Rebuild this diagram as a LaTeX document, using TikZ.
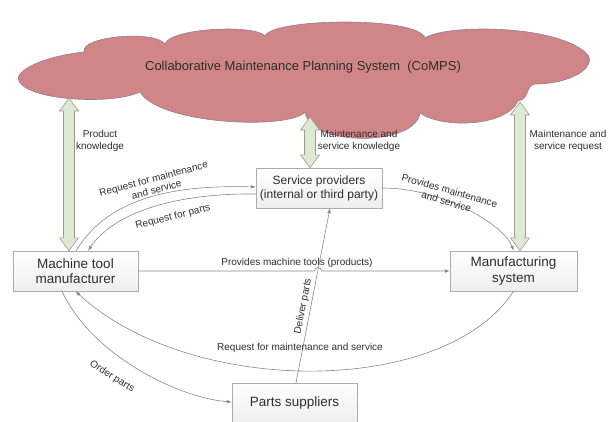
\documentclass[tikz,border=0pt]{standalone}
\usepackage{fontspec}
\setmainfont{Liberation Sans}
\usetikzlibrary{shapes,arrows.meta,calc,shadows}

\definecolor{cloudfill}{RGB}{208,134,134}
\definecolor{cloudline}{RGB}{150,125,150}
\definecolor{arrowfill}{RGB}{222,232,210}
\definecolor{arrowline}{RGB}{150,160,140}
\definecolor{linegray}{RGB}{135,135,135}
\definecolor{textgray}{RGB}{45,45,45}

% two-headed fat arrow, straight down from #1 to the height of #2
\newcommand{\fatarrow}[2]{
  \draw[fatarrow] let \p1=#1, \p2=#2 in
    (\x1,\y1) -- (\x1+9.5pt,\y1-13pt) -- (\x1+5.5pt,\y1-13pt) -- (\x1+5.5pt,\y2+13pt)
    -- (\x1+9.5pt,\y2+13pt) -- (\x1,\y2) -- (\x1-9.5pt,\y2+13pt) -- (\x1-5.5pt,\y2+13pt)
    -- (\x1-5.5pt,\y1-13pt) -- (\x1-9.5pt,\y1-13pt) -- cycle;
}

\begin{document}
\begin{tikzpicture}[x=1pt,y=1pt,
  box/.style={draw=gray!65, top color=white, bottom color=gray!13,
    drop shadow={shadow xshift=1pt,shadow yshift=-1pt,opacity=.25},
    minimum width=125pt, minimum height=40pt, inner sep=2pt, align=center,
    text=textgray, font=\fontsize{13.5}{15.5}\selectfont},
  lbl/.style={text=textgray, align=center, inner sep=1pt, font=\fontsize{10}{11.5}\selectfont},
  conn/.style={draw=linegray, line width=.6pt, -{Latex[length=5pt,width=3.6pt]}},
  fatarrow/.style={draw=arrowline, fill=arrowfill, line width=.6pt}]
\useasboundingbox (0,0) rectangle (612,421);

% cloud
\filldraw[fill=cloudfill, draw=cloudline, line width=.6pt]
  (18,343) .. controls (22,356) and (55,366) .. (84,369)
  .. controls (80,385) and (155,391) .. (165,377)
  .. controls (170,393) and (255,397) .. (265,385)
  .. controls (272,403) and (418,405) .. (425,383)
  .. controls (445,397) and (560,397) .. (588,366)
  .. controls (596,353) and (570,337) .. (535,337)
  .. controls (525,335) and (530,322) .. (518,320)
  .. controls (505,293) and (440,293) .. (420,308)
  .. controls (415,274) and (310,274) .. (305,309)
  .. controls (290,291) and (160,296) .. (140,329)
  .. controls (110,315) and (20,321) .. (18,343) -- cycle;
\node[font=\fontsize{13}{15}\selectfont, text=textgray] (comps) at (303,354)
  {Collaborative Maintenance Planning System\ \ (CoMPS)};

% boxes
\node[box] (mtm) at (75.5,150) {Machine tool\\manufacturer};
\node[box, minimum width=127pt] (ms) at (513.5,150) {Manufacturing\\system};
\node[box, minimum width=126pt, font=\fontsize{12}{14}\selectfont] (svc) at (319,233)
  {Service providers\\(internal or third party)};
\node[box] (parts) at (294.5,18) {Parts suppliers};

% links to the cloud
\coordinate (top1) at (69,323);
\coordinate (top2) at (310,304);
\coordinate (top3) at (520,319);
\fatarrow{(top1)}{(mtm.north)}
\fatarrow{(top2)}{(svc.north)}
\fatarrow{(top3)}{(ms.north)}
\node[lbl] (pk) at (100,280) {Product\\knowledge};
\node[lbl] (msk) at (359,280) {Maintenance and\\service knowledge};
\node[lbl] (msr) at (568,280) {Maintenance and\\service request};

% machine tool manufacturer <-> service providers
\draw[conn] ([xshift=.5pt]mtm.north) .. controls +(34,56) and +(-76,2) .. ([yshift=1pt]svc.west);
\draw[conn] ([yshift=-6pt]svc.west) .. controls +(-76,1) and +(27,40) .. ([xshift=12.5pt]mtm.north);
\node[lbl, rotate=15] (l1) at (155,237) {Request for maintenance\\and service};
\node[lbl, rotate=14] (l2) at (173,204) {Request for parts};

% service providers -> manufacturing system
\draw[conn] (svc.east) .. controls +(63,0) and +(-8,24) .. (ms.north);
\node[lbl, rotate=-16] (l3) at (448,225) {Provides maintenance\\and service};

% products
\draw[conn] (mtm.east) -- (314.5,150) arc[start angle=180, end angle=0, radius=3.5] -- (ms.west);
\node[lbl] (l4) at (297,158) {Provides machine tools (products)};

% parts
\draw[conn] ([xshift=1.5pt]parts.north) -- node[lbl, sloped, above=1.5pt, pos=.43] (l5) {Deliver parts} ([xshift=11pt]svc.south);
\draw[conn] ([xshift=-13.5pt]mtm.south) .. controls +(30,-65) and +(-52,4) .. ([yshift=1pt]parts.west);
\node[lbl, rotate=-32] (l6) at (112,44) {Order parts};

% manufacturing system -> machine tool manufacturer
\draw[conn] (ms.south) .. controls +(-68.5,-106) and +(114.5,-106) .. (mtm.south);
\node[lbl] (l7) at (300,73) {Request for maintenance and service};
\end{tikzpicture}
\end{document}
